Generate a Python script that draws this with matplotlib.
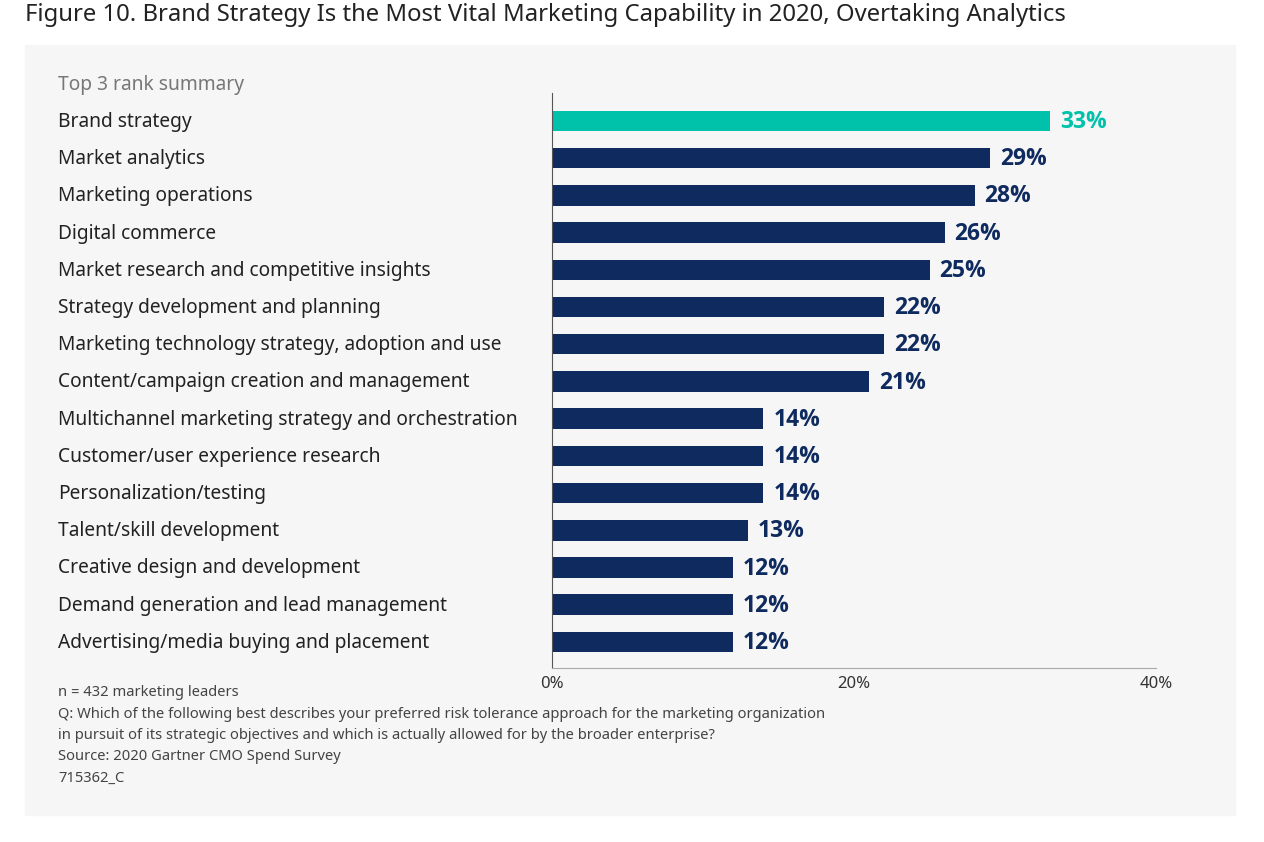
import matplotlib.pyplot as plt
from matplotlib.patches import Rectangle

categories = [
    "Brand strategy", "Market analytics", "Marketing operations", "Digital commerce",
    "Market research and competitive insights", "Strategy development and planning",
    "Marketing technology strategy, adoption and use", "Content/campaign creation and management",
    "Multichannel marketing strategy and orchestration", "Customer/user experience research",
    "Personalization/testing", "Talent/skill development", "Creative design and development",
    "Demand generation and lead management", "Advertising/media buying and placement",
]
values = [33, 29, 28, 26, 25, 22, 22, 21, 14, 14, 14, 13, 12, 12, 12]
tick_vals = [0, 20, 40]

navy = "#0e2a5e"
teal = "#00c1a9"
plt.rcParams['font.family'] = ['Noto Sans', 'DejaVu Sans']

fig = plt.figure(figsize=(12.64, 8.42), dpi=100)
fig.patch.set_facecolor("white")
fig.patches.append(Rectangle((25/1264, 1-815/842), 1210/1264, 770/842,
                             transform=fig.transFigure, color="#f6f6f6", zorder=-10))
fig.text(25/1264, 1-15/842, "Figure 10. Brand Strategy Is the Most Vital Marketing Capability in 2020, Overtaking Analytics",
         fontsize=17.2, va="center", color="#222222")

ax = fig.add_axes([552/1264, 1-668/842, 604/1264, 575/842])
ax.set_facecolor("none")
colors = [teal] + [navy] * (len(values) - 1)
ypos = list(range(len(values)))
ax.barh(ypos, values, height=0.55, color=colors)
for y, v, c in zip(ypos, values, colors):
    ax.text(v + 0.65, y + 0.03, f"{v}%", va="center", ha="left", fontsize=16.5,
            fontweight="bold", family=["Open Sans", "DejaVu Sans"], color=c)
ax.set_ylim(14.7, -0.75)
ax.set_xlim(0, 40)
ax.set_yticks([])
ax.set_xticks(tick_vals)
ax.set_xticklabels([f"{t}%" for t in tick_vals], fontsize=12, color="#333333")
ax.tick_params(axis="x", length=0, pad=6)
for s in ["top", "right"]:
    ax.spines[s].set_visible(False)
ax.spines["left"].set_color("#555555")
ax.spines["bottom"].set_color("#aaaaaa")

for y, cat in zip(ypos, categories):
    fig.text(58/1264, 1-(122 + y*37.2)/842, cat, fontsize=13.8, va="center", color="#222222")
fig.text(58/1264, 1-85/842, "Top 3 rank summary", fontsize=13.8, va="center", color="#777777")

notes = [
    "n = 432 marketing leaders",
    "Q: Which of the following best describes your preferred risk tolerance approach for the marketing organization",
    "in pursuit of its strategic objectives and which is actually allowed for by the broader enterprise?",
    "Source: 2020 Gartner CMO Spend Survey",
    "715362_C",
]
for i, n in enumerate(notes):
    fig.text(58/1264, 1-(693 + i*21.3)/842, n, fontsize=10.6, va="center", color="#444444")

fig.savefig("out.png", dpi=100)
